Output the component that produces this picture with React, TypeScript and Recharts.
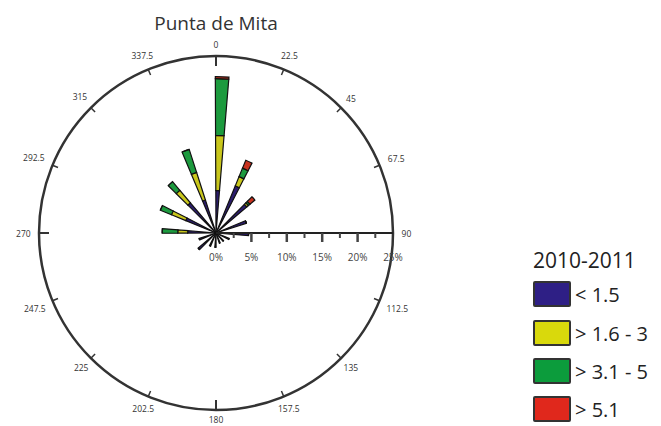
import React from 'react';
import { RadialBarChart, RadialBar, PolarAngleAxis, PolarRadiusAxis } from 'recharts';

// wind rose, Punta de Mita 2010-2011 (% of time per direction)
const directions = ['0', '22.5', '45', '67.5', '90', '112.5', '135', '157.5', '180', '202.5', '225', '247.5', '270', '292.5', '315', '337.5'];
const speedLow = [6.0, 7.2, 5.7, 4.5, 4.6, 2.0, 1.5, 1.5, 2.0, 2.0, 3.3, 2.5, 4.0, 4.6, 5.6, 4.9];
const speedMid = [7.8, 1.4, 0.3, 0, 0, 0, 0, 0, 0, 0, 0, 0, 1.4, 2.2, 2.3, 4.1];
const speedHigh = [8.0, 1.3, 0.3, 0, 0, 0, 0, 0, 0, 0, 0, 0, 2.2, 1.7, 1.6, 3.4];
const speedMax = [0.3, 1.2, 0.9, 0, 0, 0, 0, 0, 0, 0, 0, 0, 0, 0, 0, 0];
const radiusTicks = [0, 2.5, 5, 7.5, 10, 12.5, 15, 17.5, 20, 22.5, 25];
const seriesNames = ['< 1.5', '> 1.6 - 3', '> 3.1 - 5', '> 5.1'];
const barColors = ['#2c1d6e', '#c9c71c', '#1c9a3e', '#c8321f'];
const legendColors = ['#2e1f85', '#d9d90c', '#0c9c3c', '#e0281c'];

const data = directions.map((d, i) => ({
  dir: d,
  low: speedLow[i],
  mid: speedMid[i],
  high: speedHigh[i],
  max: speedMax[i],
}));
const keys = ['low', 'mid', 'high', 'max'];

const CX = 208;
const CY = 225;
const R = 177;
const RAD = Math.PI / 180;
const WEDGE = 5; // degrees per petal
// petals start on the direction line and open clockwise, so shift the band
const SHIFT = 11.25 + WEDGE / 2;

function AngleTick(props: any) {
  const { x, y, payload } = props;
  const theta = Math.atan2(-(y - CY), x - CX) / RAD + SHIFT;
  const ux = Math.cos(theta * RAD);
  const uy = -Math.sin(theta * RAD);
  const label = String(payload.value);
  const major = Number(label) % 90 === 0;
  const len = major ? 10 : 6;
  const half = label.length * 2.2;
  const off = R + 9 + Math.abs(ux) * half + (uy < 0 ? -uy * 2.5 : 0);
  return (
    <g>
      <line
        x1={CX + ux * R}
        y1={CY + uy * R}
        x2={CX + ux * (R - len)}
        y2={CY + uy * (R - len)}
        stroke="#333"
        strokeWidth={major ? 2 : 1.5}
      />
      <text
        x={CX + ux * off}
        y={CY + uy * off}
        textAnchor="middle"
        dominantBaseline="central"
        fontSize={8.5}
        fill="#333"
        fontFamily="'Open Sans', sans-serif"
      >
        {label}
      </text>
    </g>
  );
}

function RadiusTick(props: any) {
  const { x, y, payload } = props;
  const v = Number(payload.value);
  const major = v % 5 === 0;
  return (
    <g>
      {v > 0 && v < 25 && (
        <line x1={x} y1={y} x2={x} y2={y + (major ? 9 : 5)} stroke="#444" strokeWidth={major ? 2.5 : 2} />
      )}
      {major && (
        <text
          x={x}
          y={y + 24}
          textAnchor="middle"
          dominantBaseline="central"
          fontSize={10}
          fill="#444"
          fontFamily="'Open Sans', sans-serif"
        >
          {`${v}%`}
        </text>
      )}
    </g>
  );
}

export default function App() {
  return (
    <div style={{ position: 'relative', width: 645, height: 418, fontFamily: "'Open Sans', sans-serif" }}>
      <div
        style={{
          position: 'absolute',
          left: CX - 100,
          width: 200,
          top: 5,
          textAlign: 'center',
          fontSize: 19,
          lineHeight: '20px',
          color: '#333',
        }}
      >
        Punta de Mita
      </div>

      <RadialBarChart
        width={430}
        height={418}
        data={data}
        cx={CX}
        cy={CY}
        innerRadius={0}
        outerRadius={R}
        startAngle={90 - SHIFT}
        endAngle={-270 - SHIFT}
        layout="centric"
        barSize={WEDGE}
        margin={{ top: 0, right: 0, bottom: 0, left: 0 }}
      >
        <PolarAngleAxis
          dataKey="dir"
          type="category"
          axisLineType="circle"
          axisLine={{ stroke: '#333', strokeWidth: 2.5 }}
          tickLine={false}
          tick={<AngleTick />}
        />
        <PolarRadiusAxis
          type="number"
          domain={[0, 25]}
          ticks={radiusTicks}
          angle={0}
          axisLine={{ stroke: '#222', strokeWidth: 2 }}
          tickLine={false}
          tick={<RadiusTick />}
        />
        {keys.map((k, i) => (
          <RadialBar
            key={k}
            dataKey={k}
            stackId="a"
            fill={barColors[i]}
            stroke="#111"
            strokeWidth={1.2}
            isAnimationActive={false}
          />
        ))}
      </RadialBarChart>

      <div style={{ position: 'absolute', left: 525, top: 242, fontSize: 21, lineHeight: '20px', color: '#222' }}>
        2010-2011
      </div>
      {seriesNames.map((n, i) => (
        <div
          key={n}
          style={{
            position: 'absolute',
            left: 525,
            top: [286, 325, 363, 401][i] - 13,
            height: 26,
            display: 'flex',
            alignItems: 'center',
          }}
        >
          <div
            style={{
              width: 34,
              height: 22,
              background: legendColors[i],
              border: '2px solid #333',
              borderRadius: 2,
              marginRight: 4,
            }}
          />
          <span style={{ fontSize: 20, color: '#222' }}>{n}</span>
        </div>
      ))}
    </div>
  );
}
